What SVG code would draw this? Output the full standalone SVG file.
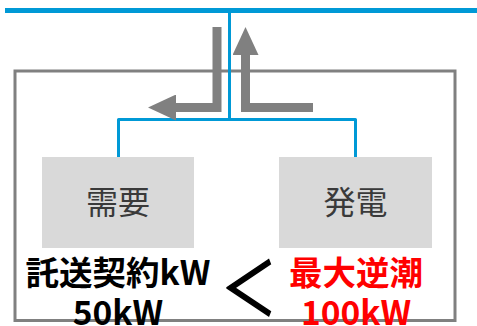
<svg xmlns="http://www.w3.org/2000/svg" width="477" height="326" viewBox="0 0 477 326">
<style>
.blue{fill:none;stroke:#0099d6;stroke-width:3;stroke-linejoin:round}
.flow{fill:none;stroke:#808080;stroke-width:9;stroke-linejoin:miter}
.box{fill:#d9d9d9}
.lbl{font-family:"Noto Sans CJK JP",sans-serif;font-size:32px;fill:#3a3a3a;text-anchor:middle}
.val{font-family:"Noto Sans CJK JP",sans-serif;font-size:33.5px;font-weight:bold;text-anchor:middle}
</style>
<defs>
<marker id="ah" viewBox="0 0 28 26" refX="1" refY="13" markerWidth="28" markerHeight="26" markerUnits="userSpaceOnUse" orient="auto">
<path d="M0,0 L28,13 L0,26 z" fill="#808080"/>
</marker>
</defs>
<rect id="site" x="15" y="71" width="440" height="249.5" fill="none" stroke="#808080" stroke-width="3"/>
<g id="connectors">
<line class="blue" x1="5" y1="10.5" x2="477" y2="10.5" style="stroke-width:5"/>
<line class="blue" x1="229.5" y1="10" x2="229.5" y2="119.5"/>
<path class="blue" d="M118.5,157 V119.5 H355.5 V157"/>
<path class="flow" d="M217,27 V107.5 H175" marker-end="url(#ah)"/>
<path class="flow" d="M313,107.5 H245.5 V54" marker-end="url(#ah)"/>
</g>
<g id="demand">
<rect class="box" x="42" y="157" width="152" height="91"/>
<text class="lbl" x="118" y="214">需要</text>
</g>
<g id="generation">
<rect class="box" x="279" y="157" width="153" height="91"/>
<text class="lbl" x="355.5" y="214">発電</text>
</g>
<g id="contract">
<text class="val" x="118" y="285" fill="#000">託送契約kW</text>
<text class="val" x="118" y="325" fill="#000">50kW</text>
</g>
<g id="compare">
<text transform="translate(249,0) scale(1,1.3)" x="0" y="242" font-family="Noto Sans CJK JP,sans-serif" font-size="56" text-anchor="middle" fill="#000" stroke="#000" stroke-width="1.2">＜</text>
</g>
<g id="reverse">
<text class="val" x="356" y="285" fill="#ff0000">最大逆潮</text>
<text class="val" x="356" y="325" fill="#ff0000">100kW</text>
</g>
</svg>
